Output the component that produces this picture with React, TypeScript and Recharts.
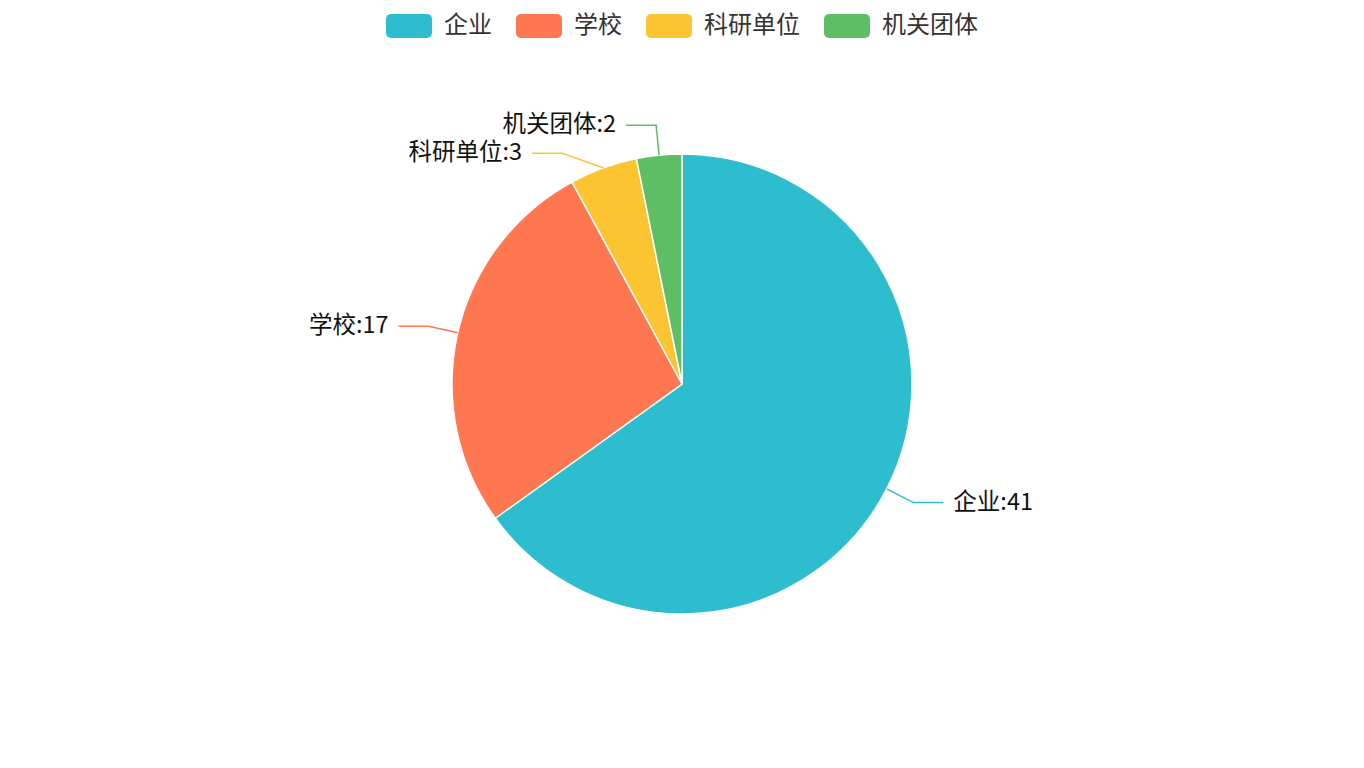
import { PieChart, Pie, Cell } from "recharts";

const CATEGORIES = ["企业", "学校", "科研单位", "机关团体"];
const COUNTS = [41, 17, 3, 2];
const COLORS = ["#2ebdcf", "#ff7750", "#fdc431", "#5dbe65"];

const W = 1364;
const H = 768;
const RADIUS = 230;
const LINE1 = 30; // radial part of the label line
const LINE2 = 30; // horizontal part
const TEXT_GAP = 10;
const LABEL_H = 28;
const FONT = "'Noto Sans CJK SC', 'Noto Sans', sans-serif";

const data = CATEGORIES.map((name, i) => ({ name, value: COUNTS[i] }));

// push labels apart vertically on each side (like echarts' shift layout)
function labelShifts(): number[] {
  const total = COUNTS.reduce((a, b) => a + b, 0);
  const rA = RADIUS + LINE1;
  let cum = 0;
  const items = COUNTS.map((v, i) => {
    const mid = (90 - ((cum + v / 2) / total) * 360) * (Math.PI / 180);
    cum += v;
    const y = -rA * Math.sin(mid);
    return { i, right: Math.cos(mid) >= 0, y, base: y };
  });
  [true, false].forEach((side) => {
    const list = items.filter((it) => it.right === side).sort((a, b) => a.y - b.y);
    for (let k = 1; k < list.length; k++) {
      if (list[k].y - list[k - 1].y < LABEL_H) list[k].y = list[k - 1].y + LABEL_H;
    }
  });
  const out: number[] = [];
  items.forEach((it) => (out[it.i] = it.y - it.base));
  return out;
}

const SHIFTS = labelShifts();

const renderLabel = (props: any) => {
  const { cx, cy, midAngle, outerRadius, index, name, value } = props;
  const rad = (-midAngle * Math.PI) / 180;
  const cos = Math.cos(rad);
  const sin = Math.sin(rad);
  const right = cos >= 0;
  const sx = cx + outerRadius * cos;
  const sy = cy + outerRadius * sin;
  const rA = outerRadius + LINE1;
  let ex = cx + rA * cos;
  const ey = cy + rA * sin + SHIFTS[index];
  if (SHIFTS[index] !== 0) {
    const dy = ey - cy;
    const dx = Math.sqrt(Math.max(0, rA * rA - dy * dy));
    ex = cx + (right ? dx : -dx);
  }
  const hx = ex + (right ? LINE2 : -LINE2);
  const tx = hx + (right ? TEXT_GAP : -TEXT_GAP);
  return (
    <g>
      <path
        d={`M${sx},${sy}L${ex},${ey}L${hx},${ey}`}
        stroke={COLORS[index]}
        strokeWidth={1.5}
        fill="none"
      />
      <text
        x={tx}
        y={ey - 3}
        textAnchor={right ? "start" : "end"}
        dominantBaseline="central"
        fontSize={23.5}
        fontFamily={FONT}
        fill="#111"
      >
        {`${name}:${value}`}
      </text>
    </g>
  );
};

export default function App() {
  return (
    <div style={{ position: "absolute", left: 0, top: 0, width: W, height: H, background: "#fff" }}>
      <div
        style={{
          position: "absolute",
          top: 14,
          left: 0,
          width: W,
          display: "flex",
          justifyContent: "center",
          alignItems: "center",
          gap: 24,
          fontFamily: FONT,
          fontSize: 24,
          color: "#333",
        }}
      >
        {CATEGORIES.map((c, i) => (
          <div key={c} style={{ display: "flex", alignItems: "center" }}>
            <span
              style={{
                display: "inline-block",
                width: 46,
                height: 24,
                borderRadius: 5,
                background: COLORS[i],
                marginRight: 12,
              }}
            />
            <span style={{ lineHeight: "24px", position: "relative", top: -3 }}>{c}</span>
          </div>
        ))}
      </div>
      <PieChart width={W} height={H} margin={{ top: 0, right: 0, bottom: 0, left: 0 }}>
        <Pie
          data={data}
          dataKey="value"
          nameKey="name"
          cx={682}
          cy={384}
          outerRadius={RADIUS}
          startAngle={90}
          endAngle={-270}
          stroke="#fff"
          strokeWidth={1.5}
          label={renderLabel}
          labelLine={false}
          isAnimationActive={false}
        >
          {data.map((d, i) => (
            <Cell key={d.name} fill={COLORS[i]} />
          ))}
        </Pie>
      </PieChart>
    </div>
  );
}
